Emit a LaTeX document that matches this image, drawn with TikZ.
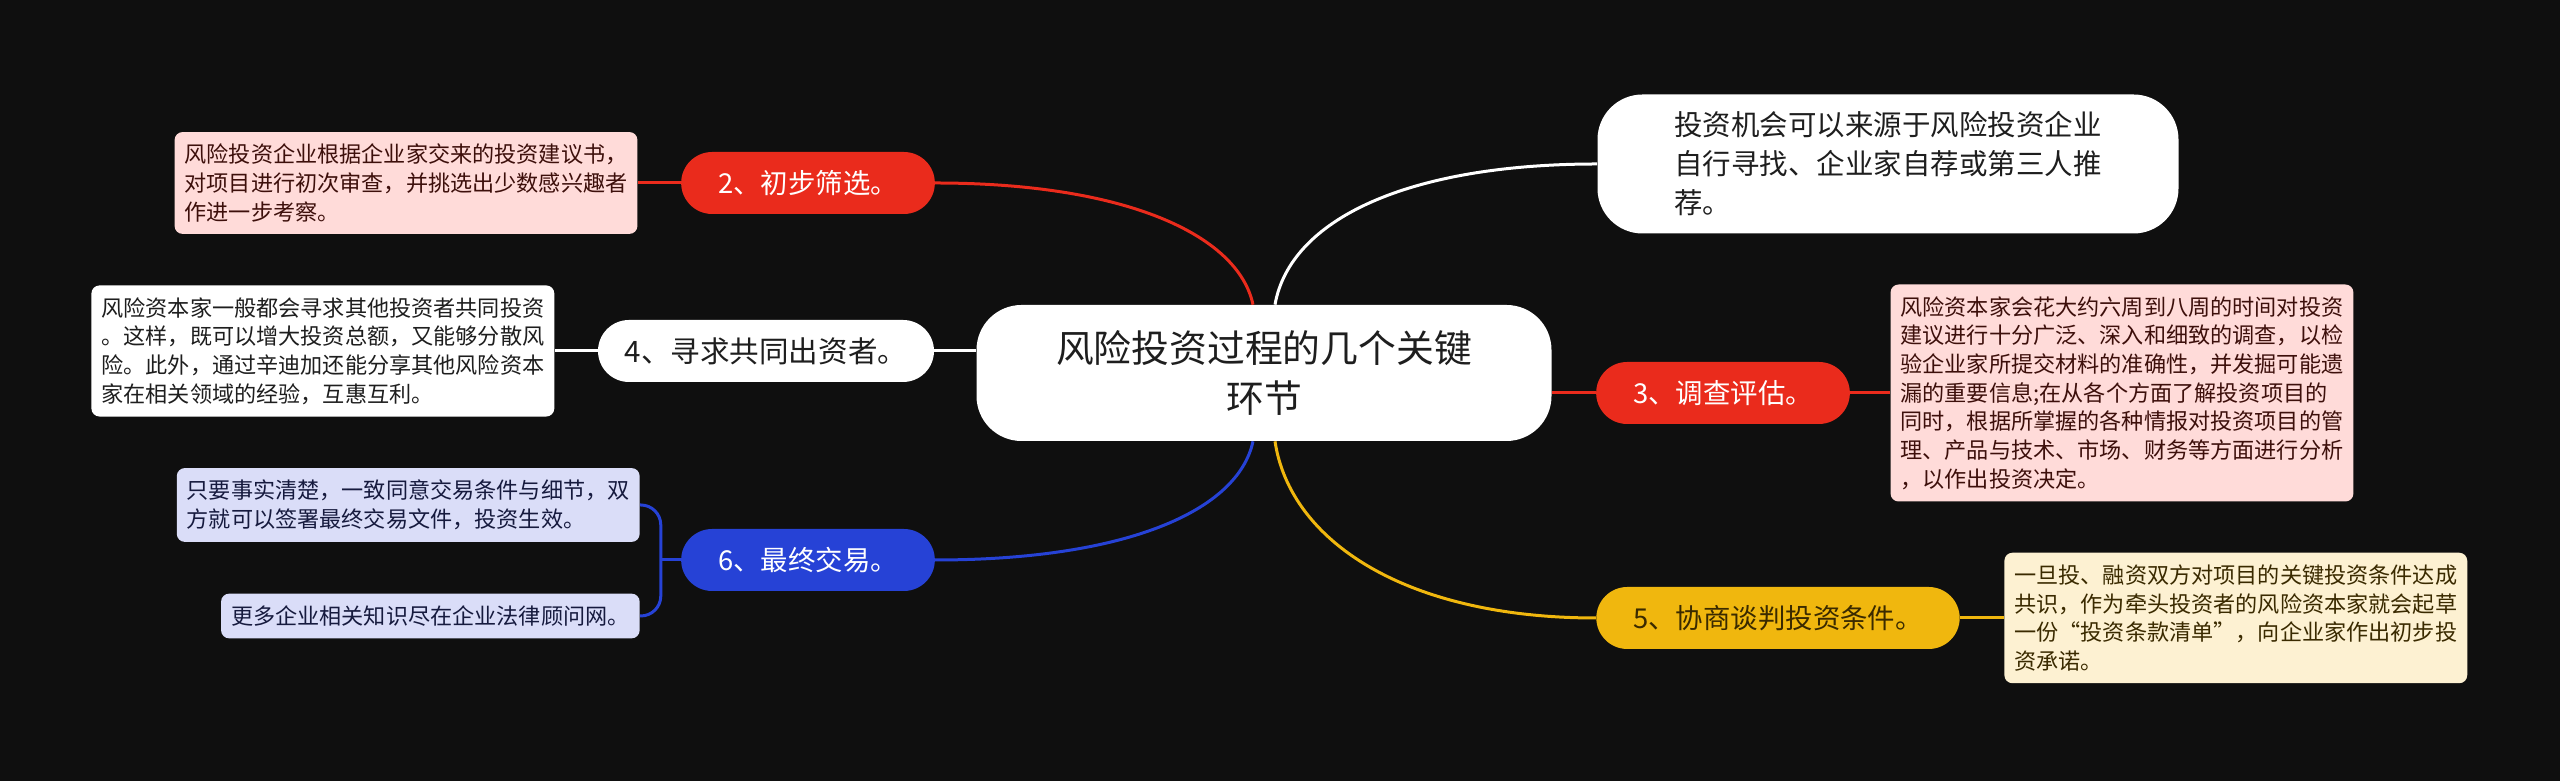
\documentclass[tikz,border=0pt]{standalone}
\usepackage{fontspec}
\setmainfont{Noto Sans CJK SC}
\usepackage{xcolor}
\definecolor{bgDark}{HTML}{0F0F0F}
\definecolor{branchRed}{HTML}{EA2B1C}
\definecolor{branchBlue}{HTML}{2642D6}
\definecolor{branchYellow}{HTML}{F0B70E}
\definecolor{leafPink}{HTML}{FFDBD9}
\definecolor{leafLavender}{HTML}{DADDF8}
\definecolor{leafCream}{HTML}{FDF1D2}
\definecolor{darkText}{HTML}{1E1E1E}
\definecolor{pinkText}{HTML}{3D0F0B}
\definecolor{lavenderText}{HTML}{161A3E}
\definecolor{creamText}{HTML}{3A2A00}
\usepackage{tikz}
\usetikzlibrary{
    positioning
}
\tikzset{
    % Central topic - large white pill
    root topic/.style={
        font=\fontsize{21.5pt}{27.9pt}\selectfont,
        align=center,
        text=darkText,
        fill=white,
        rounded corners=9mm,
        minimum width=115mm,
        minimum height=27.2mm,
    },
    % Main branches - small coloured pills
    branch/.style={
        font=\fontsize{15.6pt}{20pt}\selectfont,
        align=center,
        text=white,
        rounded corners=6.2mm,
        minimum height=12.4mm,
        inner xsep=7.4mm,
    },
    % Detail boxes next to the branches
    note/.style={
        font=\fontsize{12.6pt}{16.3pt}\selectfont,
        align=left,
        rounded corners=1.6mm,
        inner xsep=2mm,
        inner ysep=2.4mm,
        minimum width=92mm,
    },
    % Connector lines
    link/.style={
        line width=0.6mm,
    },
}

\begin{document}
\begin{tikzpicture}[x=0.2mm, y=0.2mm]
    \fill [bgDark] (0,0) rectangle (2560,781);

    \node (root) [root topic] at (1264,408) {风险投资过程的几个关键\\环节};
    \node (source) [root topic, font=\fontsize{16.2pt}{22.2pt}\selectfont, align=left, minimum width=116.2mm, minimum height=27.8mm] at (1888,617) {投资机会可以来源于风险投资企业\\自行寻找、企业家自荐或第三人推\\荐。};
    \node (screen) [branch, fill=branchRed] at (808,598) {2、初步筛选。};
    \node (cofund) [branch, fill=white, text=darkText, font=\fontsize{16.8pt}{20pt}\selectfont, inner xsep=5mm, minimum width=67.2mm] at (766,430) {4、寻求共同出资者。};
    \node (closing) [branch, fill=branchBlue] at (808,221) {6、最终交易。};
    \node (review) [branch, fill=branchRed] at (1723,388) {3、调查评估。};
    \node (terms) [branch, fill=branchYellow, text=creamText] at (1778,163) {5、协商谈判投资条件。};

    \node (screenNote) [note, fill=leafPink, text=pinkText, left=8.6mm of screen] {风险投资企业根据企业家交来的投资建议书，\\对项目进行初次审查，并挑选出少数感兴趣者\\作进一步考察。};
    \node (cofundNote) [note, fill=white, text=darkText, left=8.6mm of cofund] {风险资本家一般都会寻求其他投资者共同投资\\。这样，既可以增大投资总额，又能够分散风\\险。此外，通过辛迪加还能分享其他风险资本\\家在相关领域的经验，互惠互利。};
    \node (dealNote) [note, fill=leafLavender, text=lavenderText, anchor=east] at (640,276) {只要事实清楚，一致同意交易条件与细节，双\\方就可以签署最终交易文件，投资生效。};
    \node (moreNote) [note, fill=leafLavender, text=lavenderText, minimum width=0pt, anchor=east] at (640,165) {更多企业相关知识尽在企业法律顾问网。};
    \node (reviewNote) [note, fill=leafPink, text=pinkText, right=8mm of review] {风险资本家会花大约六周到八周的时间对投资\\建议进行十分广泛、深入和细致的调查，以检\\验企业家所提交材料的准确性，并发掘可能遗\\漏的重要信息;在从各个方面了解投资项目的\\同时，根据所掌握的各种情报对投资项目的管\\理、产品与技术、市场、财务等方面进行分析\\，以作出投资决定。};
    \node (termsNote) [note, fill=leafCream, text=creamText, right=8.8mm of terms] {一旦投、融资双方对项目的关键投资条件达成\\共识，作为牵头投资者的风险资本家就会起草\\一份“投资条款清单”，向企业家作出初步投\\资承诺。};

    \draw [link, draw=white] ([xshift=2.2mm]root.north) .. controls +(15,85) and +(-190,0) .. (source.west);
    \draw [link, draw=branchRed] ([xshift=-2.2mm]root.north) .. controls +(-15,70) and +(190,0) .. (screen.east);
    \draw [link, draw=white] (cofund.east) -- (cofund.east -| root.west);
    \draw [link, draw=branchRed] (review.west) -- (review.west -| root.east);
    \draw [link, draw=branchBlue] ([xshift=-2.2mm]root.south) .. controls +(-15,-70) and +(190,0) .. (closing.east);
    \draw [link, draw=branchYellow] ([xshift=2.2mm]root.south) .. controls +(15,-100) and +(-190,0) .. (terms.west);

    \draw [link, draw=branchRed] (screen.west) -- (screenNote.east);
    \draw [link, draw=white] (cofund.west) -- (cofundNote.east);
    \draw [link, draw=branchRed] (review.east) -- (reviewNote.west);
    \draw [link, draw=branchYellow] (terms.east) -- (termsNote.west);
    \draw [link, draw=branchBlue] (closing.west) -- ++(-20,0) coordinate (fork);
    \draw [link, draw=branchBlue, rounded corners=4mm] (dealNote.east) -| (fork) |- (moreNote.east);
\end{tikzpicture}
\end{document}
